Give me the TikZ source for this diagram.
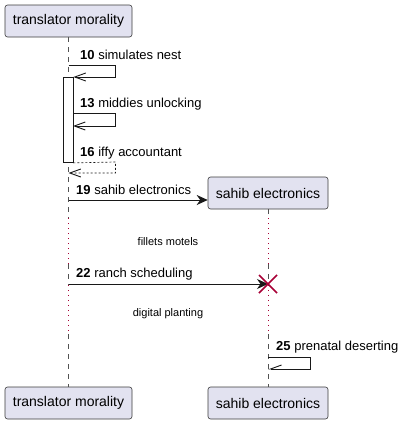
\documentclass[tikz,border=0pt]{standalone}
\usepackage{fontspec}
\setmainfont{Liberation Sans}
\usetikzlibrary{arrows.meta}
\definecolor{partfill}{HTML}{E2E2F0}
\definecolor{partdraw}{HTML}{181818}
\definecolor{crim}{HTML}{A80036}
\begin{document}
\begin{tikzpicture}[x=1pt,y=1pt,
  part/.style={draw=partdraw!85, line width=0.6pt, fill=partfill, rounded corners=2.5pt,
    minimum height=32pt, inner sep=0pt, font=\fontsize{14}{16}\selectfont},
  life/.style={draw=partdraw!75, line width=0.6pt, dash pattern=on 5pt off 5pt},
  delayline/.style={draw=crim, line width=0.9pt, dash pattern=on 1pt off 4pt},
  msg/.style={anchor=west, inner sep=0pt, font=\fontsize{13}{15}\selectfont},
  delaytxt/.style={inner sep=0pt, font=\fontsize{11}{13}\selectfont},
  msgline/.style={draw=partdraw, line width=0.9pt},
  openhead/.style={-{Straight Barb[length=11pt,width=8pt,line width=0.9pt]}},
  halfhead/.style={-{Straight Barb[right,length=11pt,width=8pt,line width=0.9pt]}},
  fillhead/.style={-{Stealth[length=11pt,width=10pt,inset=3.5pt]}},
  actbox/.style={draw=partdraw, line width=0.9pt, fill=white, minimum width=10pt, minimum height=85pt, inner sep=0pt},
  xmark/.style={draw=crim, line width=1.6pt}
]
\useasboundingbox (0,0) rectangle (402,-423);

% participants
\node[part, minimum width=127pt] (tmTop) at (68.5,-21) {translator morality};
\node[part, minimum width=127pt] (tmBot) at (68.5,-403) {translator morality};
\node[part, minimum width=120pt] (seTop) at (268,-193) {sahib electronics};
\node[part, minimum width=120pt] (seBot) at (268,-403) {sahib electronics};

% lifeline coordinates
\coordinate (La) at (68.5,-218);
\coordinate (Lb) at (68.5,-264);
\coordinate (Lc) at (68.5,-285);
\coordinate (Ld) at (68.5,-334);
\coordinate (Ra) at (268,-218);
\coordinate (Rb) at (268,-264);
\coordinate (Rc) at (268,-285);
\coordinate (Rd) at (268,-334);

\draw[life] (tmTop.south) -- (La);
\draw[delayline] (La) -- (Lb);
\draw[life] (Lb) -- (Lc);
\draw[delayline] (Lc) -- (Ld);
\draw[life] (Ld) -- (tmBot.north);

\draw[life] (seTop.south) -- (Ra);
\draw[delayline] (Ra) -- (Rb);
\draw[life] (Rb) -- (Rc);
\draw[delayline] (Rc) -- (Rd);
\draw[life] (Rd) -- (seBot.north);

% activation
\node[actbox, anchor=north] (act) at (68,-77) {};

% message 10
\node[msg] (m10) at (80,-55) {\textbf{10} simulates nest};
\coordinate (a10s) at (68.5,-65);
\coordinate (a10e) at (act.north east);
\draw[msgline, openhead] (a10s) -- (115.5,-65) -- (115.5,-77) -- (a10e);

% message 13
\node[msg] (m13) at (80,-104) {\textbf{13} middies unlocking};
\coordinate (a13s) at (73,-113);
\coordinate (a13e) at (73,-126);
\draw[msgline, openhead] (a13s) -- (115.5,-113) -- (115.5,-126) -- (a13e);

% message 16
\node[msg] (m16) at (80,-153) {\textbf{16} iffy accountant};
\coordinate (a16s) at (act.south east);
\coordinate (a16e) at (68.5,-173);
\draw[msgline, openhead, line width=0.7pt, dash pattern=on 2pt off 2pt] (a16s) -- (115.5,-162) -- (115.5,-173) -- (a16e);

% message 19
\node[msg] (m19) at (76,-190) {\textbf{19} sahib electronics};
\coordinate (a19s) at (68.5,-200);
\draw[msgline, fillhead] (a19s) -- (seTop.west |- a19s);

% delay 1
\node[delaytxt] (d1) at (168,-242) {fillets motels};

% message 22
\node[msg] (m22) at (76,-274) {\textbf{22} ranch scheduling};
\coordinate (a22s) at (68.5,-284);
\coordinate (xc) at (268,-284);
\draw[msgline, fillhead] (a22s) -- (xc);
\draw[xmark] ([shift={(-9,9)}]xc) -- ([shift={(9,-9)}]xc);
\draw[xmark] ([shift={(-9,-9)}]xc) -- ([shift={(9,9)}]xc);

% delay 2
\node[delaytxt] (d2) at (168,-314) {digital planting};

% message 25
\node[msg] (m25) at (276,-347) {\textbf{25} prenatal deserting};
\coordinate (a25s) at (268,-357);
\coordinate (a25e) at (268,-369);
\draw[msgline, halfhead] (a25s) -- (310.5,-357) -- (310.5,-369) -- (a25e);
\end{tikzpicture}
\end{document}
